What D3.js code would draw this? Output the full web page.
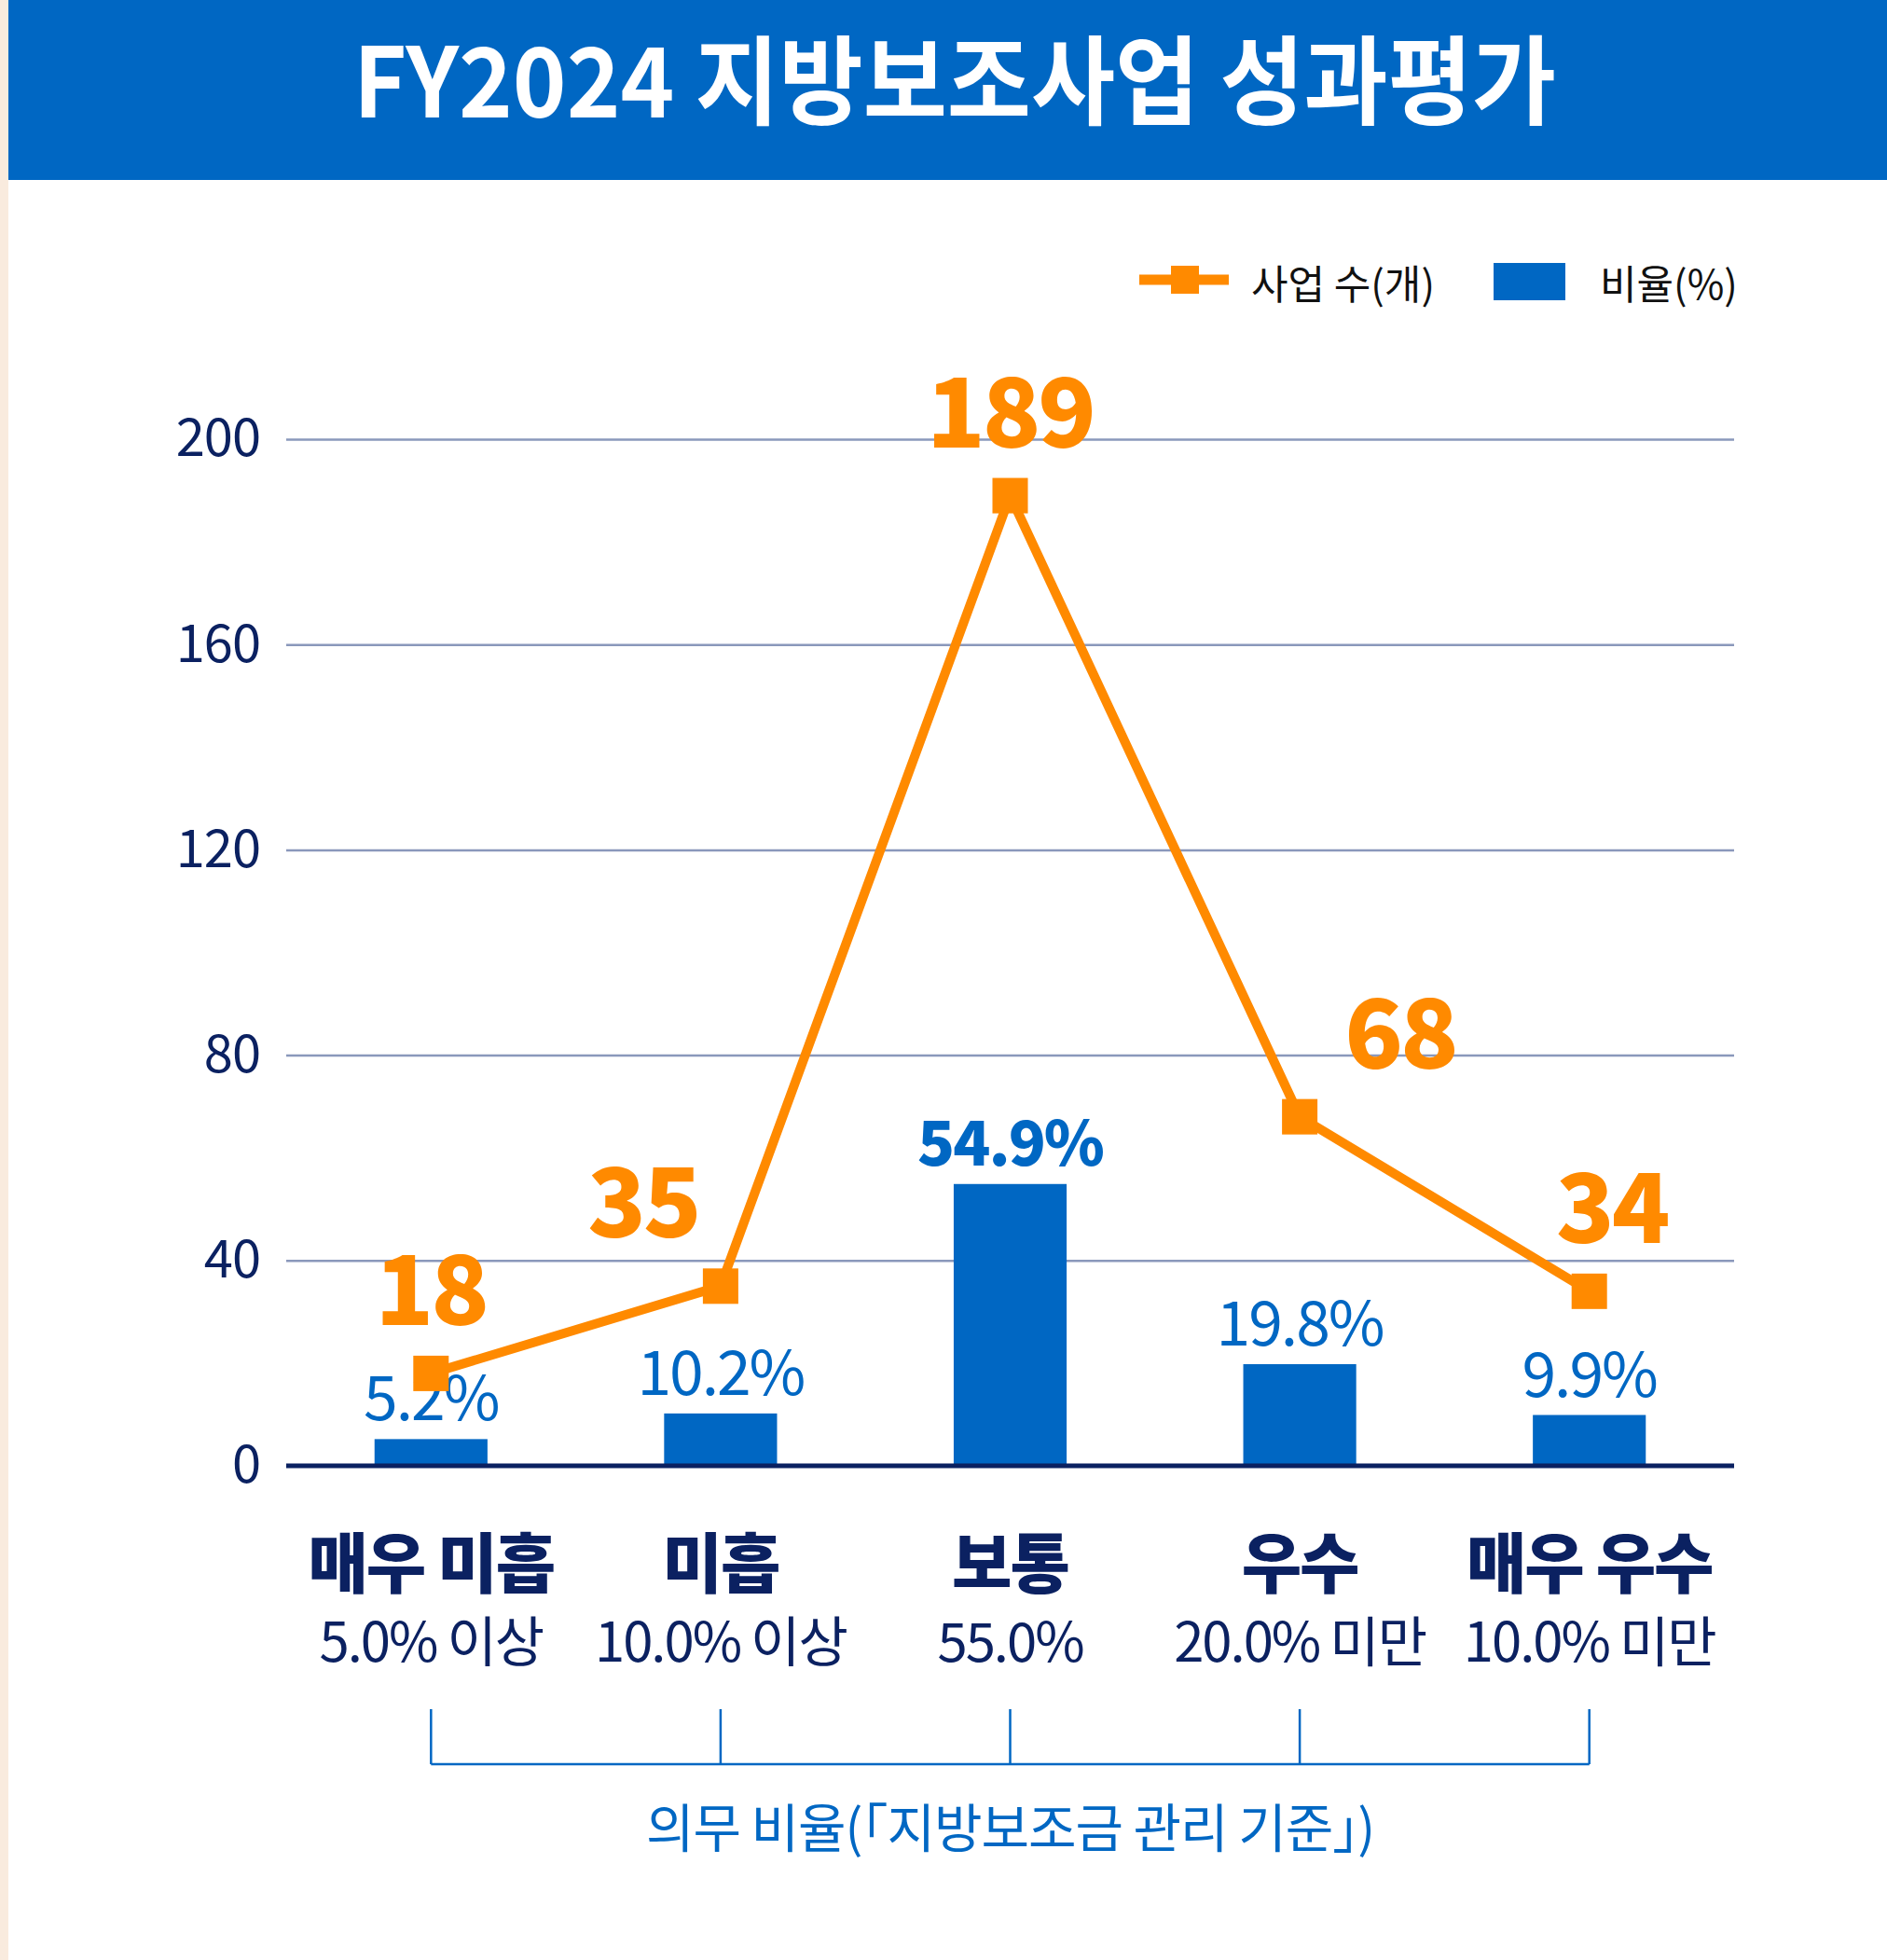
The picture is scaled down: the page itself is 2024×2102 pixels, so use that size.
<!DOCTYPE html>
<html>
<head>
<meta charset="utf-8">
<script src="https://cdn.jsdelivr.net/npm/d3@7"></script>
<style>
  body { margin: 0; background: #fff; }
  svg text { font-family: "Noto Sans CJK KR", "Noto Sans", sans-serif; }
</style>
</head>
<body>
<svg id="chart"></svg>
<script>
const outerWidth = 2024;
const outerHeight = 2102;

// data
const titleText = "FY2024 지방보조사업 성과평가";
const categories = ["매우 미흡", "미흡", "보통", "우수", "매우 우수"];
const standards = ["5.0% 이상", "10.0% 이상", "55.0%", "20.0% 미만", "10.0% 미만"];
const counts = [18, 35, 189, 68, 34];
const ratios = [5.2, 10.2, 54.9, 19.8, 9.9];
const yTicks = [0, 40, 80, 120, 160, 200];
const legendLabels = ["사업 수(개)", "비율(%)"];
const footnote = "의무 비율(「지방보조금 관리 기준」)";

// layout
const plot = {left: 307, right: 1860, top: 471, bottom: 1572};
const countLabelShift = [0, -83, 0, 108, 24];
const navy = "#0b2161";
const blue = "#0067c3";
const orange = "#ff8a00";

const svg = d3.select("#chart")
  .attr("width", outerWidth)
  .attr("height", outerHeight);

// page background, beige strip and title band
svg.append("rect").attr("width", outerWidth).attr("height", outerHeight).attr("fill", "#fff");
svg.append("rect").attr("x", 0).attr("y", 0).attr("width", 9).attr("height", outerHeight).attr("fill", "#f9ebde");
svg.append("rect").attr("x", 9).attr("y", 0).attr("width", outerWidth - 9).attr("height", 193).attr("fill", blue);
svg.append("text")
  .attr("x", 1024).attr("y", 126)
  .attr("text-anchor", "middle")
  .attr("font-size", 104).attr("font-weight", 700)
  .attr("fill", "#fff")
  .attr("textLength", 1290).attr("lengthAdjust", "spacingAndGlyphs")
  .text(titleText);

var x = d3.scaleBand()
  .domain(categories)
  .range([plot.left, plot.right])
  .paddingInner(0.61)
  .paddingOuter(0.305);

var y = d3.scaleLinear()
  .domain([0, 200])
  .range([plot.bottom, plot.top]);

const cx = d => x(d) + x.bandwidth() / 2;

// gridlines + tick labels
var yAxis = svg.append("g")
  .attr("transform", "translate(" + plot.left + ",0)")
  .call(d3.axisLeft(y).tickValues(yTicks).tickSize(-(plot.right - plot.left)).tickPadding(28));
yAxis.select(".domain").remove();
yAxis.selectAll(".tick line").attr("stroke", "#8a98bb").attr("stroke-width", 2.5);
yAxis.selectAll(".tick text")
  .attr("fill", navy)
  .attr("font-size", 56)
  .attr("letter-spacing", -1)
  .style("font-family", "'Noto Sans CJK KR', sans-serif");

// bars
svg.append("g").selectAll("rect")
  .data(ratios)
  .enter()
  .append("rect")
  .attr("x", (d, i) => x(categories[i]))
  .attr("width", x.bandwidth())
  .attr("y", d => y(d))
  .attr("height", d => y(0) - y(d))
  .attr("fill", blue);

// zero line
svg.append("line")
  .attr("x1", plot.left).attr("x2", plot.right)
  .attr("y1", y(0)).attr("y2", y(0))
  .attr("stroke", navy).attr("stroke-width", 5);

// bar labels
const maxRatio = d3.max(ratios);
svg.append("g").selectAll("text")
  .data(ratios)
  .enter()
  .append("text")
  .attr("x", (d, i) => cx(categories[i]))
  .attr("y", d => y(d) - 20)
  .attr("text-anchor", "middle")
  .attr("font-size", 66)
  .attr("letter-spacing", -2)
  .attr("font-weight", d => d === maxRatio ? 800 : 400)
  .attr("fill", blue)
  .text(d => d.toFixed(1) + "%");

// line + markers
var line = d3.line()
  .x((d, i) => cx(categories[i]))
  .y(d => y(d));

svg.append("path")
  .datum(counts)
  .attr("d", line)
  .attr("fill", "none")
  .attr("stroke", orange)
  .attr("stroke-width", 10)
  .attr("stroke-linejoin", "miter");

const ms = 38;
svg.append("g").selectAll("rect")
  .data(counts)
  .enter()
  .append("rect")
  .attr("x", (d, i) => cx(categories[i]) - ms / 2)
  .attr("y", d => y(d) - ms / 2)
  .attr("width", ms).attr("height", ms)
  .attr("fill", orange);

svg.append("g").selectAll("text")
  .data(counts)
  .enter()
  .append("text")
  .attr("x", (d, i) => cx(categories[i]) + countLabelShift[i])
  .attr("y", d => y(d) - 52)
  .attr("text-anchor", "middle")
  .attr("font-size", 103)
  .attr("font-weight", 800)
  .attr("letter-spacing", -3)
  .attr("fill", orange)
  .text(d => d);

// category labels
svg.append("g").selectAll("text")
  .data(categories)
  .enter()
  .append("text")
  .attr("x", d => cx(d))
  .attr("y", 1703)
  .attr("text-anchor", "middle")
  .attr("font-size", 70)
  .attr("font-weight", 800)
  .attr("letter-spacing", -2)
  .attr("fill", navy)
  .text(d => d);

svg.append("g").selectAll("text")
  .data(standards)
  .enter()
  .append("text")
  .attr("x", (d, i) => cx(categories[i]))
  .attr("y", 1782)
  .attr("text-anchor", "middle")
  .attr("font-size", 58)
  .attr("letter-spacing", -2)
  .attr("fill", navy)
  .text(d => d);

// bracket
var bracket = svg.append("g").attr("stroke", blue).attr("stroke-width", 2.5);
bracket.selectAll("line")
  .data(categories)
  .enter()
  .append("line")
  .attr("x1", d => cx(d)).attr("x2", d => cx(d))
  .attr("y1", 1833).attr("y2", 1892);
bracket.append("line")
  .attr("x1", cx(categories[0])).attr("x2", cx(categories[categories.length - 1]))
  .attr("y1", 1892).attr("y2", 1892);

svg.append("text")
  .attr("x", (plot.left + plot.right) / 2)
  .attr("y", 1981)
  .attr("text-anchor", "middle")
  .attr("font-size", 56)
  .attr("letter-spacing", -1)
  .attr("fill", blue)
  .text(footnote);

// legend
var legend = svg.append("g");
legend.append("line")
  .attr("x1", 1222).attr("x2", 1318).attr("y1", 300).attr("y2", 300)
  .attr("stroke", orange).attr("stroke-width", 11);
legend.append("rect")
  .attr("x", 1256).attr("y", 285).attr("width", 30).attr("height", 30)
  .attr("fill", orange);
legend.append("text")
  .attr("x", 1342).attr("y", 302)
  .attr("dominant-baseline", "central")
  .attr("font-size", 43).attr("fill", "#111")
  .text(legendLabels[0]);
legend.append("rect")
  .attr("x", 1602).attr("y", 282).attr("width", 77).attr("height", 40)
  .attr("fill", blue);
legend.append("text")
  .attr("x", 1716).attr("y", 302)
  .attr("dominant-baseline", "central")
  .attr("font-size", 43).attr("fill", "#111")
  .text(legendLabels[1]);
</script>
</body>
</html>
